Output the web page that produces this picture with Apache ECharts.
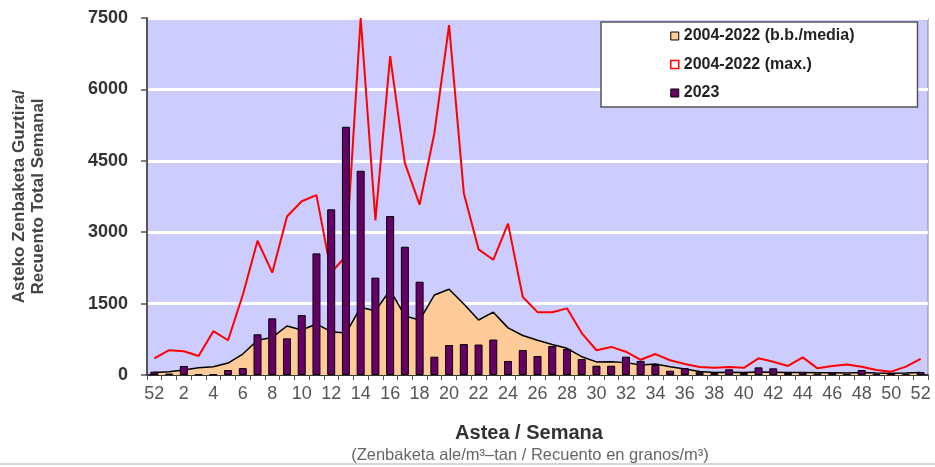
<!DOCTYPE html>
<html>
<head>
<meta charset="utf-8">
<script src="https://cdn.jsdelivr.net/npm/echarts@6/dist/echarts.min.js"></script>
<style>
html,body{margin:0;padding:0;background:#fff;}
#c{width:935px;height:467px;}
</style>
</head>
<body>
<div id="c"></div>
<script>
const weeks = ['52','1','2','3','4','5','6','7','8','9','10','11','12','13','14','15','16','17','18','19','20','21','22','23','24','25','26','27','28','29','30','31','32','33','34','35','36','37','38','39','40','41','42','43','44','45','46','47','48','49','50','51','52'];

const meanVals = [55,70,105,150,175,250,440,730,790,1030,945,1070,910,880,1420,1350,1785,1240,1155,1680,1800,1490,1155,1320,990,830,730,640,560,385,275,280,260,210,230,175,125,75,55,60,50,65,60,50,55,45,45,40,50,40,35,40,55];

const maxVals = [350,520,500,400,920,730,1680,2820,2150,3330,3650,3780,2150,2500,7500,3250,6700,4450,3580,5080,7350,3820,2640,2420,3180,1640,1320,1320,1400,880,520,590,490,320,440,310,230,170,150,170,150,350,280,190,370,140,190,220,175,105,70,175,340];

const vals2023 = [70,30,190,15,10,105,145,855,1190,770,1260,2555,3480,5215,4290,2045,3340,2695,1960,385,630,650,640,745,295,525,400,610,545,335,195,195,385,295,210,90,145,60,40,120,40,160,140,40,60,30,50,20,105,20,30,20,60];

const yTicks = [0,1500,3000,4500,6000,7500];

const seriesNames = ['2004-2022 (b.b./media)','2004-2022 (max.)','2023'];

const chart = echarts.init(document.getElementById('c'), null, {renderer:'canvas'});
const FONT = '"Liberation Sans", Arial, sans-serif';

chart.setOption({
  animation:false,
  backgroundColor:'#ffffff',
  textStyle:{fontFamily:FONT},
  grid:{left:147,right:7,top:18,bottom:92,show:true,backgroundColor:'#ccccff',borderColor:'#888',borderWidth:1,
    outerBoundsMode:'none',containLabel:false},
  legend:{
    orient:'vertical',
    left:601, top:22,
    padding:[5,63,5,69],
    itemGap:10.5,
    itemWidth:8, itemHeight:8,
    backgroundColor:'#ffffff',
    borderColor:'#555', borderWidth:1.5,
    textStyle:{fontFamily:FONT,fontSize:16,fontWeight:'bold',color:'#222',lineHeight:18},
    data:[
      {name:seriesNames[0],icon:'rect',itemStyle:{color:'#ffcc99',borderColor:'#000',borderWidth:1}},
      {name:seriesNames[1],icon:'rect',itemStyle:{color:'#ffffff',borderColor:'#ff0000',borderWidth:1.5}},
      {name:seriesNames[2],icon:'rect',itemStyle:{color:'#660066',borderColor:'#000',borderWidth:1}}
    ]
  },
  xAxis:{
    type:'category',
    data:weeks,
    boundaryGap:true,
    axisLine:{lineStyle:{color:'#333',width:2}},
    axisTick:{show:true,interval:0,length:5,lineStyle:{color:'#555'}},
    axisLabel:{interval:1,fontFamily:FONT,fontSize:18,color:'#555',margin:10},
    splitLine:{show:false}
  },
  yAxis:{
    type:'value',
    min:0,max:7500,interval:1500,
    name:'Asteko Zenbaketa Guztira/\nRecuento Total Semanal',
    nameLocation:'middle',
    nameRotate:90,
    nameGap:99,
    nameTextStyle:{fontFamily:FONT,fontSize:17,fontWeight:'bold',color:'#444',lineHeight:19},
    axisLine:{show:true,lineStyle:{color:'#555',width:2}},
    axisTick:{show:true,length:6,lineStyle:{color:'#555',width:1.5}},
    axisLabel:{fontFamily:FONT,fontSize:18,fontWeight:'bold',color:'#333',margin:19,
      formatter:function(v){return yTicks.indexOf(v)>=0?String(v):'';}},
    splitLine:{show:true,lineStyle:{color:'#ffffff',width:3}}
  },
  series:[
    {
      name:seriesNames[0],
      type:'line',
      data:meanVals,
      symbol:'none',
      lineStyle:{color:'#000',width:1.5},
      itemStyle:{color:'#ffcc99',borderColor:'#000'},
      areaStyle:{color:'#ffcc99',opacity:1},
      z:2
    },
    {
      name:seriesNames[1],
      type:'line',
      data:maxVals,
      symbol:'none',
      lineStyle:{color:'#ff0000',width:2},
      itemStyle:{color:'#ff0000'},
      z:3
    },
    {
      name:seriesNames[2],
      type:'bar',
      data:vals2023,
      barWidth:8,
      itemStyle:{color:'#660066',borderColor:'#000',borderWidth:1},
      z:4
    }
  ],
  graphic:[
    {type:'text',x:529,y:433,style:{text:'Astea / Semana',font:'bold 20px "Liberation Sans", Arial, sans-serif',fill:'#333',textAlign:'center',textVerticalAlign:'middle'}},
    {type:'text',x:530,y:455,style:{text:'(Zenbaketa ale/m³–tan / Recuento en granos/m³)',font:'16.5px "Liberation Sans", Arial, sans-serif',fill:'#666',textAlign:'center',textVerticalAlign:'middle'}},
    {type:'line',shape:{x1:0,y1:464,x2:935,y2:464},style:{stroke:'#aaa',lineWidth:1}}
  ]
});
</script>
</body>
</html>
